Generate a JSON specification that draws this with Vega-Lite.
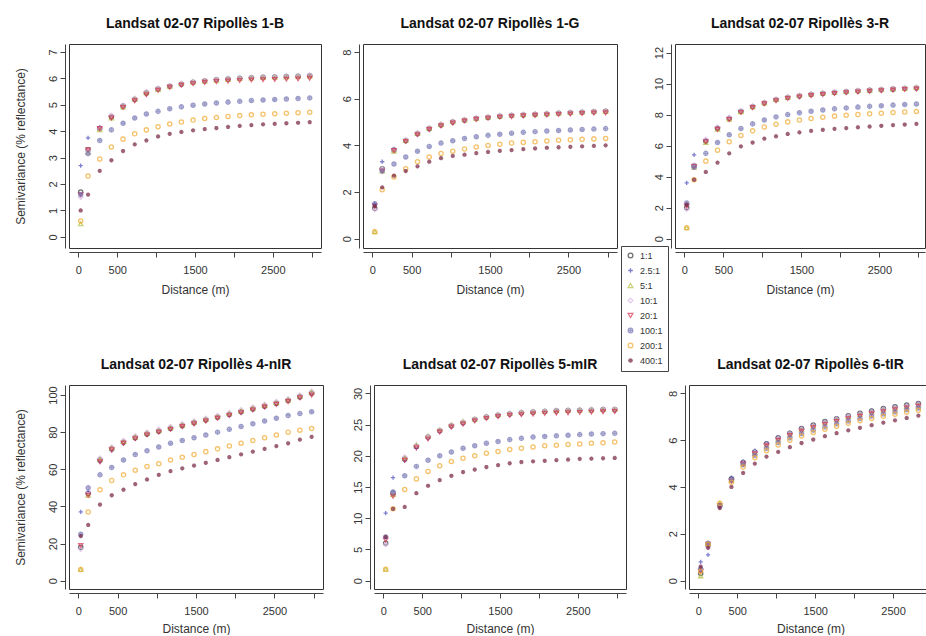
{
"$schema": "https://vega.github.io/schema/vega-lite/v6.json",
"padding": {"left": 13, "top": 16, "right": 0, "bottom": 0},
"background": "white",
"data": {"values": [
{"p":"1-B","s":"1:1","d":[30,125,275,425,575,725,875,1025,1175,1325,1475,1625,1775,1925,2075,2225,2375,2525,2675,2825,2975],"v":[1.7,3.3,4.1,4.55,4.95,5.2,5.45,5.6,5.7,5.78,5.85,5.9,5.95,5.97,6.0,6.02,6.04,6.05,6.07,6.08,6.1]},
{"p":"1-B","s":"2.5:1","d":[30,125,275,425,575,725,875,1025,1175,1325,1475,1625,1775,1925,2075,2225,2375,2525,2675,2825,2975],"v":[2.7,3.75,4.15,4.5,4.9,5.18,5.4,5.57,5.68,5.76,5.83,5.88,5.92,5.96,5.98,6.0,6.02,6.04,6.05,6.07,6.12]},
{"p":"1-B","s":"5:1","d":[30,125,275,425,575,725,875,1025,1175,1325,1475,1625,1775,1925,2075,2225,2375,2525,2675,2825,2975],"v":[0.5,3.2,4.05,4.5,4.92,5.22,5.45,5.58,5.7,5.8,5.86,5.9,5.93,5.96,5.99,6.01,6.03,6.05,6.06,6.08,6.09]},
{"p":"1-B","s":"10:1","d":[30,125,275,425,575,725,875,1025,1175,1325,1475,1625,1775,1925,2075,2225,2375,2525,2675,2825,2975],"v":[1.5,3.25,4.1,4.6,4.98,5.25,5.5,5.62,5.72,5.8,5.87,5.92,5.96,5.99,6.02,6.04,6.06,6.07,6.09,6.1,6.13]},
{"p":"1-B","s":"20:1","d":[30,125,275,425,575,725,875,1025,1175,1325,1475,1625,1775,1925,2075,2225,2375,2525,2675,2825,2975],"v":[1.6,3.3,4.1,4.5,4.9,5.15,5.38,5.55,5.66,5.74,5.8,5.85,5.88,5.9,5.92,5.94,5.95,5.96,5.97,5.98,6.0]},
{"p":"1-B","s":"100:1","d":[30,125,275,425,575,725,875,1025,1175,1325,1475,1625,1775,1925,2075,2225,2375,2525,2675,2825,2975],"v":[1.6,3.15,3.65,4.05,4.3,4.5,4.65,4.75,4.85,4.92,4.98,5.03,5.07,5.1,5.13,5.16,5.18,5.2,5.22,5.24,5.26]},
{"p":"1-B","s":"200:1","d":[30,125,275,425,575,725,875,1025,1175,1325,1475,1625,1775,1925,2075,2225,2375,2525,2675,2825,2975],"v":[0.6,2.3,2.95,3.4,3.7,3.9,4.05,4.17,4.27,4.35,4.42,4.48,4.52,4.56,4.59,4.62,4.64,4.66,4.68,4.7,4.72]},
{"p":"1-B","s":"400:1","d":[30,125,275,425,575,725,875,1025,1175,1325,1475,1625,1775,1925,2075,2225,2375,2525,2675,2825,2975],"v":[1.0,1.6,2.5,2.9,3.25,3.5,3.65,3.8,3.9,3.97,4.03,4.08,4.12,4.16,4.2,4.23,4.26,4.28,4.3,4.32,4.34]},
{"p":"1-G","s":"1:1","d":[30,125,275,425,575,725,875,1025,1175,1325,1475,1625,1775,1925,2075,2225,2375,2525,2675,2825,2975],"v":[1.3,3.0,3.8,4.2,4.5,4.72,4.88,5.0,5.08,5.15,5.2,5.25,5.28,5.3,5.33,5.35,5.38,5.4,5.42,5.44,5.46]},
{"p":"1-G","s":"2.5:1","d":[30,125,275,425,575,725,875,1025,1175,1325,1475,1625,1775,1925,2075,2225,2375,2525,2675,2825,2975],"v":[1.5,3.3,3.85,4.18,4.48,4.7,4.86,4.98,5.07,5.14,5.19,5.23,5.27,5.3,5.32,5.35,5.37,5.39,5.41,5.43,5.45]},
{"p":"1-G","s":"5:1","d":[30,125,275,425,575,725,875,1025,1175,1325,1475,1625,1775,1925,2075,2225,2375,2525,2675,2825,2975],"v":[0.3,2.9,3.75,4.22,4.52,4.75,4.9,5.02,5.1,5.16,5.22,5.26,5.3,5.33,5.35,5.37,5.39,5.41,5.43,5.45,5.47]},
{"p":"1-G","s":"10:1","d":[30,125,275,425,575,725,875,1025,1175,1325,1475,1625,1775,1925,2075,2225,2375,2525,2675,2825,2975],"v":[1.25,3.0,3.8,4.25,4.55,4.76,4.92,5.03,5.11,5.18,5.23,5.28,5.31,5.34,5.36,5.38,5.4,5.42,5.44,5.46,5.48]},
{"p":"1-G","s":"20:1","d":[30,125,275,425,575,725,875,1025,1175,1325,1475,1625,1775,1925,2075,2225,2375,2525,2675,2825,2975],"v":[1.4,2.9,3.78,4.17,4.46,4.68,4.84,4.96,5.05,5.12,5.17,5.21,5.24,5.27,5.29,5.31,5.33,5.35,5.37,5.39,5.4]},
{"p":"1-G","s":"100:1","d":[30,125,275,425,575,725,875,1025,1175,1325,1475,1625,1775,1925,2075,2225,2375,2525,2675,2825,2975],"v":[1.5,2.9,3.2,3.5,3.75,3.95,4.1,4.2,4.3,4.37,4.43,4.48,4.52,4.56,4.59,4.62,4.64,4.66,4.68,4.7,4.72]},
{"p":"1-G","s":"200:1","d":[30,125,275,425,575,725,875,1025,1175,1325,1475,1625,1775,1925,2075,2225,2375,2525,2675,2825,2975],"v":[0.3,2.1,2.65,3.0,3.3,3.5,3.65,3.75,3.85,3.93,4.0,4.05,4.1,4.13,4.16,4.19,4.22,4.24,4.26,4.28,4.3]},
{"p":"1-G","s":"400:1","d":[30,125,275,425,575,725,875,1025,1175,1325,1475,1625,1775,1925,2075,2225,2375,2525,2675,2825,2975],"v":[1.4,2.2,2.7,2.9,3.1,3.3,3.45,3.55,3.6,3.67,3.72,3.77,3.8,3.84,3.87,3.9,3.92,3.94,3.96,3.98,4.0]},
{"p":"3-R","s":"1:1","d":[30,125,275,425,575,725,875,1025,1175,1325,1475,1625,1775,1925,2075,2225,2375,2525,2675,2825,2975],"v":[2.0,4.7,6.3,7.1,7.75,8.2,8.5,8.75,8.95,9.1,9.2,9.3,9.36,9.42,9.47,9.52,9.56,9.6,9.64,9.68,9.72]},
{"p":"3-R","s":"2.5:1","d":[30,125,275,425,575,725,875,1025,1175,1325,1475,1625,1775,1925,2075,2225,2375,2525,2675,2825,2975],"v":[3.6,5.4,6.35,7.15,7.8,8.22,8.52,8.76,8.95,9.08,9.18,9.27,9.34,9.4,9.45,9.5,9.54,9.58,9.62,9.66,9.7]},
{"p":"3-R","s":"5:1","d":[30,125,275,425,575,725,875,1025,1175,1325,1475,1625,1775,1925,2075,2225,2375,2525,2675,2825,2975],"v":[0.7,4.6,6.2,7.05,7.7,8.18,8.5,8.77,8.97,9.12,9.23,9.32,9.39,9.45,9.5,9.55,9.59,9.63,9.67,9.7,9.74]},
{"p":"3-R","s":"10:1","d":[30,125,275,425,575,725,875,1025,1175,1325,1475,1625,1775,1925,2075,2225,2375,2525,2675,2825,2975],"v":[1.9,4.75,6.4,7.2,7.82,8.26,8.56,8.8,9.0,9.14,9.25,9.34,9.41,9.47,9.52,9.56,9.6,9.64,9.68,9.72,9.76]},
{"p":"3-R","s":"20:1","d":[30,125,275,425,575,725,875,1025,1175,1325,1475,1625,1775,1925,2075,2225,2375,2525,2675,2825,2975],"v":[2.1,4.65,6.25,7.05,7.68,8.14,8.45,8.7,8.9,9.04,9.14,9.23,9.3,9.36,9.41,9.46,9.5,9.54,9.58,9.62,9.65]},
{"p":"3-R","s":"100:1","d":[30,125,275,425,575,725,875,1025,1175,1325,1475,1625,1775,1925,2075,2225,2375,2525,2675,2825,2975],"v":[2.3,4.6,5.5,6.2,6.7,7.1,7.4,7.65,7.85,8.0,8.12,8.22,8.3,8.37,8.43,8.48,8.53,8.57,8.61,8.65,8.68]},
{"p":"3-R","s":"200:1","d":[30,125,275,425,575,725,875,1025,1175,1325,1475,1625,1775,1925,2075,2225,2375,2525,2675,2825,2975],"v":[0.7,3.8,5.0,5.7,6.25,6.65,6.95,7.2,7.38,7.53,7.65,7.75,7.83,7.9,7.96,8.0,8.05,8.09,8.13,8.17,8.2]},
{"p":"3-R","s":"400:1","d":[30,125,275,425,575,725,875,1025,1175,1325,1475,1625,1775,1925,2075,2225,2375,2525,2675,2825,2975],"v":[2.2,3.8,4.3,4.9,5.5,5.95,6.2,6.45,6.6,6.75,6.85,6.95,7.02,7.08,7.13,7.18,7.23,7.28,7.32,7.36,7.4]},
{"p":"4-nIR","s":"1:1","d":[30,125,275,425,575,725,875,1025,1175,1325,1475,1625,1775,1925,2075,2225,2375,2525,2675,2825,2975],"v":[18,47,65,71,74.5,77,79,80.5,82,83.5,85,86.5,88,89.5,91,92.5,94,95.5,97,99,101]},
{"p":"4-nIR","s":"2.5:1","d":[30,125,275,425,575,725,875,1025,1175,1325,1475,1625,1775,1925,2075,2225,2375,2525,2675,2825,2975],"v":[37,48,64,70,74,76.5,78.5,80.2,81.7,83.2,84.7,86.2,87.7,89.2,90.7,92.2,93.7,95.2,96.8,98.5,100.5]},
{"p":"4-nIR","s":"5:1","d":[30,125,275,425,575,725,875,1025,1175,1325,1475,1625,1775,1925,2075,2225,2375,2525,2675,2825,2975],"v":[6,46,65.5,71.5,75,77.5,79.5,81,82.5,84,85.5,87,88.5,90,91.5,93,94.5,96,97.5,99.5,101.5]},
{"p":"4-nIR","s":"10:1","d":[30,125,275,425,575,725,875,1025,1175,1325,1475,1625,1775,1925,2075,2225,2375,2525,2675,2825,2975],"v":[17,48,66,72,75.5,78,80,81.5,83,84.5,86,87.5,89,90.5,92,93.5,95,96.5,98,100,102]},
{"p":"4-nIR","s":"20:1","d":[30,125,275,425,575,725,875,1025,1175,1325,1475,1625,1775,1925,2075,2225,2375,2525,2675,2825,2975],"v":[19,46,64,70.5,74,76.5,78.5,80,81.5,83,84.5,86,87.5,89,90.5,92,93.5,95,96.5,98.5,100]},
{"p":"4-nIR","s":"100:1","d":[30,125,275,425,575,725,875,1025,1175,1325,1475,1625,1775,1925,2075,2225,2375,2525,2675,2825,2975],"v":[25,50,57,61,65,68,70,72,74,75.5,77,78.5,80,81.5,83,84.5,86,87.5,89,90,91]},
{"p":"4-nIR","s":"200:1","d":[30,125,275,425,575,725,875,1025,1175,1325,1475,1625,1775,1925,2075,2225,2375,2525,2675,2825,2975],"v":[6,37,49,54,57,59.5,61.5,63,65,66.5,68,69.5,71,72.5,74,75.5,77,78.5,80,81,82]},
{"p":"4-nIR","s":"400:1","d":[30,125,275,425,575,725,875,1025,1175,1325,1475,1625,1775,1925,2075,2225,2375,2525,2675,2825,2975],"v":[24,30,41,46,49,52,54.5,57,59,60.5,62,63.5,65,66.5,68,69.5,71,72.5,74,76,77.5]},
{"p":"5-mIR","s":"1:1","d":[30,125,275,425,575,725,875,1025,1175,1325,1475,1625,1775,1925,2075,2225,2375,2525,2675,2825,2975],"v":[6,14,19.5,21.5,23,24,24.8,25.3,25.8,26.2,26.5,26.7,26.9,27,27.1,27.2,27.25,27.3,27.35,27.4,27.4]},
{"p":"5-mIR","s":"2.5:1","d":[30,125,275,425,575,725,875,1025,1175,1325,1475,1625,1775,1925,2075,2225,2375,2525,2675,2825,2975],"v":[10.8,16.5,19.2,21.2,22.8,23.9,24.7,25.2,25.7,26.1,26.4,26.6,26.8,26.95,27.05,27.15,27.2,27.25,27.3,27.35,27.3]},
{"p":"5-mIR","s":"5:1","d":[30,125,275,425,575,725,875,1025,1175,1325,1475,1625,1775,1925,2075,2225,2375,2525,2675,2825,2975],"v":[1.8,13.8,19.7,21.8,23.2,24.2,25.0,25.5,25.9,26.3,26.6,26.8,27.0,27.1,27.2,27.25,27.3,27.35,27.4,27.45,27.5]},
{"p":"5-mIR","s":"10:1","d":[30,125,275,425,575,725,875,1025,1175,1325,1475,1625,1775,1925,2075,2225,2375,2525,2675,2825,2975],"v":[5.8,14.2,19.8,21.7,23.1,24.1,24.9,25.4,25.9,26.3,26.6,26.8,27.0,27.1,27.2,27.3,27.35,27.4,27.45,27.5,27.5]},
{"p":"5-mIR","s":"20:1","d":[30,125,275,425,575,725,875,1025,1175,1325,1475,1625,1775,1925,2075,2225,2375,2525,2675,2825,2975],"v":[6.5,13.5,19.3,21.3,22.7,23.8,24.6,25.1,25.6,26.0,26.3,26.5,26.6,26.7,26.8,26.85,26.9,26.95,27.0,27.05,27.1]},
{"p":"5-mIR","s":"100:1","d":[30,125,275,425,575,725,875,1025,1175,1325,1475,1625,1775,1925,2075,2225,2375,2525,2675,2825,2975],"v":[7,14.2,16.8,18.3,19.3,20.0,20.6,21.2,21.6,22.0,22.3,22.6,22.8,23.0,23.1,23.2,23.3,23.4,23.5,23.55,23.6]},
{"p":"5-mIR","s":"200:1","d":[30,125,275,425,575,725,875,1025,1175,1325,1475,1625,1775,1925,2075,2225,2375,2525,2675,2825,2975],"v":[1.8,11.5,14.6,16.3,17.5,18.4,19.1,19.6,20.0,20.4,20.7,21.0,21.2,21.4,21.6,21.7,21.8,21.9,22.0,22.1,22.2]},
{"p":"5-mIR","s":"400:1","d":[30,125,275,425,575,725,875,1025,1175,1325,1475,1625,1775,1925,2075,2225,2375,2525,2675,2825,2975],"v":[7,11.5,11.8,14.0,15.2,16.1,16.8,17.4,17.8,18.2,18.5,18.8,19.0,19.1,19.2,19.3,19.4,19.5,19.55,19.6,19.65]},
{"p":"6-tIR","s":"1:1","d":[30,125,275,425,575,725,875,1025,1175,1325,1475,1625,1775,1925,2075,2225,2375,2525,2675,2825,2975],"v":[0.3,1.5,3.2,4.35,5.05,5.5,5.85,6.1,6.3,6.5,6.65,6.8,6.92,7.05,7.15,7.25,7.35,7.43,7.5,7.57,7.65]},
{"p":"6-tIR","s":"2.5:1","d":[30,125,275,425,575,725,875,1025,1175,1325,1475,1625,1775,1925,2075,2225,2375,2525,2675,2825,2975],"v":[0.8,1.1,3.25,4.4,5.1,5.55,5.88,6.12,6.32,6.5,6.65,6.8,6.93,7.05,7.16,7.26,7.35,7.43,7.5,7.57,7.64]},
{"p":"6-tIR","s":"5:1","d":[30,125,275,425,575,725,875,1025,1175,1325,1475,1625,1775,1925,2075,2225,2375,2525,2675,2825,2975],"v":[0.2,1.6,3.3,4.3,5.0,5.45,5.8,6.05,6.25,6.45,6.6,6.75,6.88,7.0,7.1,7.2,7.3,7.38,7.45,7.52,7.6]},
{"p":"6-tIR","s":"10:1","d":[30,125,275,425,575,725,875,1025,1175,1325,1475,1625,1775,1925,2075,2225,2375,2525,2675,2825,2975],"v":[0.5,1.45,3.15,4.3,5.02,5.48,5.82,6.08,6.28,6.47,6.62,6.77,6.9,7.02,7.12,7.22,7.32,7.4,7.47,7.54,7.62]},
{"p":"6-tIR","s":"20:1","d":[30,125,275,425,575,725,875,1025,1175,1325,1475,1625,1775,1925,2075,2225,2375,2525,2675,2825,2975],"v":[0.4,1.55,3.2,4.25,4.98,5.42,5.76,6.0,6.2,6.38,6.53,6.67,6.8,6.92,7.03,7.13,7.22,7.3,7.38,7.45,7.52]},
{"p":"6-tIR","s":"100:1","d":[30,125,275,425,575,725,875,1025,1175,1325,1475,1625,1775,1925,2075,2225,2375,2525,2675,2825,2975],"v":[0.5,1.6,3.2,4.3,4.95,5.35,5.65,5.9,6.1,6.28,6.43,6.57,6.7,6.82,6.93,7.03,7.12,7.21,7.3,7.38,7.45]},
{"p":"6-tIR","s":"200:1","d":[30,125,275,425,575,725,875,1025,1175,1325,1475,1625,1775,1925,2075,2225,2375,2525,2675,2825,2975],"v":[0.4,1.55,3.3,4.2,4.85,5.25,5.55,5.8,6.0,6.18,6.33,6.47,6.6,6.72,6.83,6.93,7.02,7.11,7.2,7.28,7.35]},
{"p":"6-tIR","s":"400:1","d":[30,125,275,425,575,725,875,1025,1175,1325,1475,1625,1775,1925,2075,2225,2375,2525,2675,2825,2975],"v":[0.6,1.4,3.1,4.0,4.6,5.0,5.3,5.5,5.7,5.88,6.03,6.17,6.3,6.42,6.53,6.64,6.75,6.85,6.95,7.05,7.15]}
]},
"vconcat": [
{"hconcat": [
{"width": 252, "height": 204, "title": "Landsat 02-07 Ripollès 1-B",
 "transform": [{"filter": "datum.p == '1-B'"}, {"flatten": ["d", "v"]}],
 "mark": {"type": "point", "filled": false, "size": 18, "strokeWidth": 1.3},
 "encoding": {
  "x": {"field": "d", "type": "quantitative", "scale": {"domain": [-120, 3120], "nice": false, "zero": false}, "axis": {"values": [0,500,1000,1500,2000,2500,3000], "format": "d", "labelExpr": "datum.value == 0 || datum.value == 500 || datum.value == 1500 || datum.value == 2500 ? datum.label : ''", "title": "Distance (m)"}},
  "y": {"field": "v", "type": "quantitative", "scale": {"domain": [-0.42, 7.3], "nice": false, "zero": false}, "axis": {"values": [0,1,2,3,4,5,6,7], "title": "Semivariance (% reflectance)", "minExtent": 20, "maxExtent": 20}},
  "color": {"field": "s", "type": "nominal", "title": null, "scale": {"domain": ["1:1","2.5:1","5:1","10:1","20:1","100:1","200:1","400:1"], "range": ["#333333","#4b4bc0","#b5bd3c","#d9b6e3","#d8324f","#7474b4","#f2a92e","#74203f"]}},
  "shape": {"field": "s", "type": "nominal", "title": null, "scale": {"domain": ["1:1","2.5:1","5:1","10:1","20:1","100:1","200:1","400:1"], "range": ["circle","M-1,0L1,0M0,-1L0,1","triangle-up","diamond","triangle-down","M-1,0A1,1 0 1,1 1,0A1,1 0 1,1 -1,0ZM-1,0L1,0M0,-1L0,1","circle","M-1,0L1,0M0,-1L0,1M-0.7,-0.7L0.7,0.7M-0.7,0.7L0.7,-0.7"]}}
 }},
{"width": 254, "height": 204, "title": "Landsat 02-07 Ripollès 1-G",
 "transform": [{"filter": "datum.p == '1-G'"}, {"flatten": ["d", "v"]}],
 "mark": {"type": "point", "filled": false, "size": 18, "strokeWidth": 1.3},
 "encoding": {
  "x": {"field": "d", "type": "quantitative", "scale": {"domain": [-120, 3120], "nice": false, "zero": false}, "axis": {"values": [0,500,1000,1500,2000,2500,3000], "format": "d", "labelExpr": "datum.value == 0 || datum.value == 500 || datum.value == 1500 || datum.value == 2500 ? datum.label : ''", "title": "Distance (m)"}},
  "y": {"field": "v", "type": "quantitative", "scale": {"domain": [-0.4, 8.35], "nice": false, "zero": false}, "axis": {"values": [0,2,4,6,8], "title": null, "minExtent": 26, "maxExtent": 26}},
  "color": {"field": "s", "type": "nominal", "title": null, "scale": {"domain": ["1:1","2.5:1","5:1","10:1","20:1","100:1","200:1","400:1"], "range": ["#333333","#4b4bc0","#b5bd3c","#d9b6e3","#d8324f","#7474b4","#f2a92e","#74203f"]}},
  "shape": {"field": "s", "type": "nominal", "title": null, "scale": {"domain": ["1:1","2.5:1","5:1","10:1","20:1","100:1","200:1","400:1"], "range": ["circle","M-1,0L1,0M0,-1L0,1","triangle-up","diamond","triangle-down","M-1,0A1,1 0 1,1 1,0A1,1 0 1,1 -1,0ZM-1,0L1,0M0,-1L0,1","circle","M-1,0L1,0M0,-1L0,1M-0.7,-0.7L0.7,0.7M-0.7,0.7L0.7,-0.7"]}}
 }},
{"width": 250, "height": 204, "title": "Landsat 02-07 Ripollès 3-R",
 "transform": [{"filter": "datum.p == '3-R'"}, {"flatten": ["d", "v"]}],
 "mark": {"type": "point", "filled": false, "size": 18, "strokeWidth": 1.3},
 "encoding": {
  "x": {"field": "d", "type": "quantitative", "scale": {"domain": [-120, 3085], "nice": false, "zero": false}, "axis": {"values": [0,500,1000,1500,2000,2500,3000], "format": "d", "labelExpr": "datum.value == 0 || datum.value == 500 || datum.value == 1500 || datum.value == 2500 ? datum.label : ''", "title": "Distance (m)"}},
  "y": {"field": "v", "type": "quantitative", "scale": {"domain": [-0.6, 12.55], "nice": false, "zero": false}, "axis": {"values": [0,2,4,6,8,10,12], "title": null, "minExtent": 42, "maxExtent": 42}},
  "color": {"field": "s", "type": "nominal", "title": null, "scale": {"domain": ["1:1","2.5:1","5:1","10:1","20:1","100:1","200:1","400:1"], "range": ["#333333","#4b4bc0","#b5bd3c","#d9b6e3","#d8324f","#7474b4","#f2a92e","#74203f"]}},
  "shape": {"field": "s", "type": "nominal", "title": null, "scale": {"domain": ["1:1","2.5:1","5:1","10:1","20:1","100:1","200:1","400:1"], "range": ["circle","M-1,0L1,0M0,-1L0,1","triangle-up","diamond","triangle-down","M-1,0A1,1 0 1,1 1,0A1,1 0 1,1 -1,0ZM-1,0L1,0M0,-1L0,1","circle","M-1,0L1,0M0,-1L0,1M-0.7,-0.7L0.7,0.7M-0.7,0.7L0.7,-0.7"]}}
 }}
], "spacing": 10},
{"hconcat": [
{"width": 254, "height": 204, "title": "Landsat 02-07 Ripollès 4-nIR",
 "transform": [{"filter": "datum.p == '4-nIR'"}, {"flatten": ["d", "v"]}],
 "mark": {"type": "point", "filled": false, "size": 18, "strokeWidth": 1.3},
 "encoding": {
  "x": {"field": "d", "type": "quantitative", "scale": {"domain": [-120, 3120], "nice": false, "zero": false}, "axis": {"values": [0,500,1000,1500,2000,2500,3000], "format": "d", "labelExpr": "datum.value == 0 || datum.value == 500 || datum.value == 1500 || datum.value == 2500 ? datum.label : ''", "title": "Distance (m)", "titlePadding": 7}},
  "y": {"field": "v", "type": "quantitative", "scale": {"domain": [-4.5, 105.4], "nice": false, "zero": false}, "axis": {"values": [0,20,40,60,80,100], "title": "Semivariance (% reflectance)", "minExtent": 20, "maxExtent": 20}},
  "color": {"field": "s", "type": "nominal", "title": null, "scale": {"domain": ["1:1","2.5:1","5:1","10:1","20:1","100:1","200:1","400:1"], "range": ["#333333","#4b4bc0","#b5bd3c","#d9b6e3","#d8324f","#7474b4","#f2a92e","#74203f"]}},
  "shape": {"field": "s", "type": "nominal", "title": null, "scale": {"domain": ["1:1","2.5:1","5:1","10:1","20:1","100:1","200:1","400:1"], "range": ["circle","M-1,0L1,0M0,-1L0,1","triangle-up","diamond","triangle-down","M-1,0A1,1 0 1,1 1,0A1,1 0 1,1 -1,0ZM-1,0L1,0M0,-1L0,1","circle","M-1,0L1,0M0,-1L0,1M-0.7,-0.7L0.7,0.7M-0.7,0.7L0.7,-0.7"]}}
 }},
{"width": 252, "height": 204, "title": "Landsat 02-07 Ripollès 5-mIR",
 "transform": [{"filter": "datum.p == '5-mIR'"}, {"flatten": ["d", "v"]}],
 "mark": {"type": "point", "filled": false, "size": 18, "strokeWidth": 1.3},
 "encoding": {
  "x": {"field": "d", "type": "quantitative", "scale": {"domain": [-120, 3120], "nice": false, "zero": false}, "axis": {"values": [0,500,1000,1500,2000,2500,3000], "format": "d", "labelExpr": "datum.value == 0 || datum.value == 500 || datum.value == 1500 || datum.value == 2500 ? datum.label : ''", "title": "Distance (m)", "titlePadding": 7}},
  "y": {"field": "v", "type": "quantitative", "scale": {"domain": [-1.35, 31.35], "nice": false, "zero": false}, "axis": {"values": [0,5,10,15,20,25,30], "title": null, "minExtent": 35, "maxExtent": 35}},
  "color": {"field": "s", "type": "nominal", "title": null, "scale": {"domain": ["1:1","2.5:1","5:1","10:1","20:1","100:1","200:1","400:1"], "range": ["#333333","#4b4bc0","#b5bd3c","#d9b6e3","#d8324f","#7474b4","#f2a92e","#74203f"]}},
  "shape": {"field": "s", "type": "nominal", "title": null, "scale": {"domain": ["1:1","2.5:1","5:1","10:1","20:1","100:1","200:1","400:1"], "range": ["circle","M-1,0L1,0M0,-1L0,1","triangle-up","diamond","triangle-down","M-1,0A1,1 0 1,1 1,0A1,1 0 1,1 -1,0ZM-1,0L1,0M0,-1L0,1","circle","M-1,0L1,0M0,-1L0,1M-0.7,-0.7L0.7,0.7M-0.7,0.7L0.7,-0.7"]}}
 }},
{"width": 243, "height": 204, "title": "Landsat 02-07 Ripollès 6-tIR",
 "transform": [{"filter": "datum.p == '6-tIR'"}, {"flatten": ["d", "v"]}],
 "mark": {"type": "point", "filled": false, "size": 18, "strokeWidth": 1.3},
 "encoding": {
  "x": {"field": "d", "type": "quantitative", "scale": {"domain": [-120, 3000], "nice": false, "zero": false}, "axis": {"values": [0,500,1000,1500,2000,2500,3000], "format": "d", "labelExpr": "datum.value == 0 || datum.value == 500 || datum.value == 1500 || datum.value == 2500 ? datum.label : ''", "title": "Distance (m)", "titlePadding": 7}},
  "y": {"field": "v", "type": "quantitative", "scale": {"domain": [-0.36, 8.36], "nice": false, "zero": false}, "axis": {"values": [0,2,4,6,8], "title": null, "minExtent": 47, "maxExtent": 47}},
  "color": {"field": "s", "type": "nominal", "title": null, "scale": {"domain": ["1:1","2.5:1","5:1","10:1","20:1","100:1","200:1","400:1"], "range": ["#333333","#4b4bc0","#b5bd3c","#d9b6e3","#d8324f","#7474b4","#f2a92e","#74203f"]}},
  "shape": {"field": "s", "type": "nominal", "title": null, "scale": {"domain": ["1:1","2.5:1","5:1","10:1","20:1","100:1","200:1","400:1"], "range": ["circle","M-1,0L1,0M0,-1L0,1","triangle-up","diamond","triangle-down","M-1,0A1,1 0 1,1 1,0A1,1 0 1,1 -1,0ZM-1,0L1,0M0,-1L0,1","circle","M-1,0L1,0M0,-1L0,1M-0.7,-0.7L0.7,0.7M-0.7,0.7L0.7,-0.7"]}}
 }}
], "spacing": 10}
],
"spacing": 61,
"config": {
 "font": "Liberation Sans",
 "view": {"stroke": "#333", "strokeWidth": 1},
 "axis": {"grid": false, "domainColor": "#444", "tickColor": "#444", "labelColor": "#333", "titleColor": "#333", "labelFontSize": 11, "titleFontSize": 12, "titleFontWeight": "normal", "labelFont": "Liberation Sans", "titleFont": "Liberation Sans", "tickSize": 5, "offset": 4, "labelFlush": false, "labelOverlap": false},
 "axisX": {"labelPadding": 7, "titlePadding": 9, "labelAngle": 0},
 "axisY": {"labelAngle": 270, "labelPadding": 2, "titlePadding": 18},
 "title": {"font": "Liberation Sans", "fontSize": 14, "fontWeight": "bold", "color": "#111", "anchor": "middle", "frame": "group", "offset": 13},
 "legend": {"orient": "none", "legendX": 552, "legendY": 202, "strokeColor": "#444", "fillColor": "white", "padding": 5, "labelFontSize": 9, "labelFont": "Liberation Sans", "labelColor": "#333", "symbolSize": 22, "symbolStrokeWidth": 1.3, "rowPadding": 4, "labelOffset": 5}
}
}
